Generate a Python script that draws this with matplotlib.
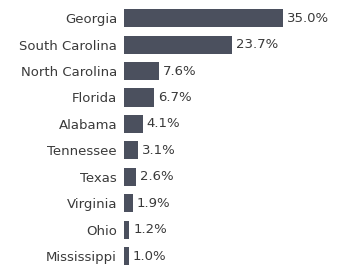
import matplotlib
matplotlib.use('Agg')
import matplotlib.pyplot as plt

states = ['Georgia', 'South Carolina', 'North Carolina', 'Florida', 'Alabama',
          'Tennessee', 'Texas', 'Virginia', 'Ohio', 'Mississippi']
shares = [35.0, 23.7, 7.6, 6.7, 4.1, 3.1, 2.6, 1.9, 1.2, 1.0]

bar_color = '#4b505e'
text_color = '#3a3a3a'

fig = plt.figure(figsize=(3.37, 2.66), dpi=100)
ax = fig.add_axes([124 / 337, 0, 1 - 124 / 337, 1])

ypos = list(range(len(states)))
ax.barh(ypos, shares, height=0.68, color=bar_color)

for y, v in zip(ypos, shares):
    ax.text(v + 0.9, y, f'{v:.1f}%', va='center', ha='left',
            fontsize=9.5, color=text_color)

ax.set_yticks(ypos)
ax.set_yticklabels(states, fontsize=9.5, color=text_color)
ax.tick_params(axis='y', length=0, pad=5)
ax.set_xticks([])
ax.set_xlim(0, 35 * (337 - 124) / 159)
ax.set_ylim(9.36, -0.68)
for s in ax.spines.values():
    s.set_visible(False)

fig.savefig('out.png', dpi=100)
